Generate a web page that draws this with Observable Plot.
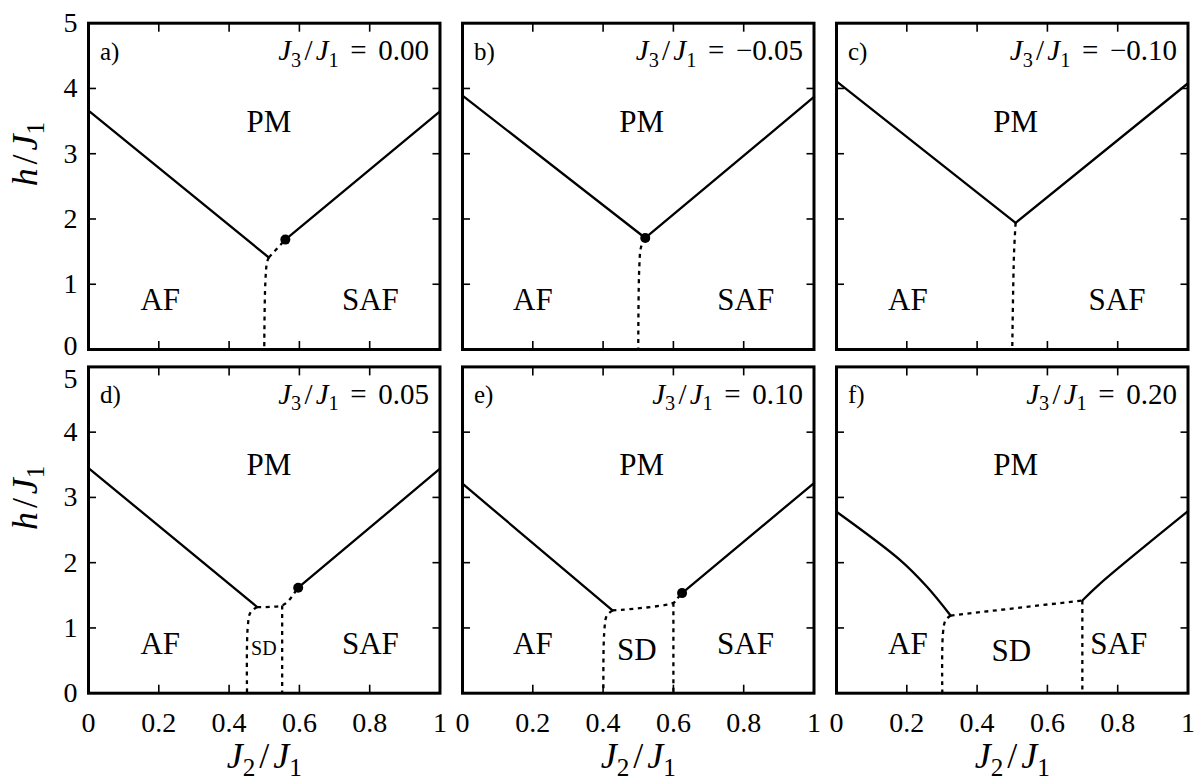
<!DOCTYPE html>
<html>
<head>
<meta charset="utf-8">
<script src="https://cdn.jsdelivr.net/npm/d3@7"></script>
<script src="https://cdn.jsdelivr.net/npm/@observablehq/plot@0.6"></script>
<style>
  html, body { margin: 0; padding: 0; background: #fff; }
  svg text { white-space: pre; }
</style>
</head>
<body>
<div id="chart"></div>
<script>
// ---- panels ----
const panelLetters = ["a", "b", "c", "d", "e", "f"];
const j3Values = [0.00, -0.05, -0.10, 0.05, 0.10, 0.20];

// ---- axes ----
const xTicks = [0, 0.2, 0.4, 0.6, 0.8, 1];
const yTicks = [0, 1, 2, 3, 4, 5];
const innerXTicks = [0.2, 0.4, 0.6, 0.8];
const innerYTicks = [1, 2, 3, 4];
const xAxisLabel = "J₂/J₁";
const yAxisLabel = "h/J₁";

// ---- phase boundaries, [J2/J1, h/J1], one entry per panel ----
// AF–PM (solid)
const afPmLine = [
  [[0, 3.66], [0.513, 1.41]],
  [[0, 3.89], [0.52, 1.709]],
  [[0, 4.11], [0.5096, 1.94]],
  [[0, 3.45], [0.48, 1.32]],
  [[0, 3.21], [0.4267, 1.268]],
  [[0, 2.78], [0.182, 2.035], [0.258, 1.626], [0.3245, 1.19]]
];
// SAF–PM (solid)
const safPmLine = [
  [[0.56, 1.684], [1, 3.65]],
  [[0.52, 1.709], [1, 3.87]],
  [[0.5096, 1.94], [1, 4.08]],
  [[0.5966, 1.616], [1, 3.44]],
  [[0.6246, 1.534], [1, 3.22]],
  [[0.6994, 1.42], [0.75, 1.68], [1, 2.79]]
];
// upper dotted boundary (towards PM)
const pmDotted = [
  [[0.513, 1.41], [0.56, 1.684]],
  null,
  null,
  [[0.48, 1.32], [0.5509, 1.345], [0.5698, 1.422], [0.584, 1.524], [0.5966, 1.616]],
  [[0.4267, 1.268], [0.6007, 1.386], [0.6104, 1.447], [0.6246, 1.534]],
  [[0.3245, 1.19], [0.6994, 1.42]]
];
// left dotted boundary (AF–SAF or AF–SD)
const leftDotted = [
  [[0.513, 1.41], [0.508, 1.34], [0.503, 1.01], [0.5, 0]],
  [[0.52, 1.709], [0.508, 1.57], [0.503, 1.27], [0.5, 0]],
  [[0.5096, 1.94], [0.505, 1.47], [0.5, 0]],
  [[0.48, 1.32], [0.461, 1.24], [0.453, 1.01], [0.451, 0]],
  [[0.4267, 1.268], [0.4107, 1.19], [0.403, 0.91], [0.401, 0]],
  [[0.3245, 1.19], [0.31, 1.115], [0.3027, 0.91], [0.301, 0]]
];
// right dotted boundary (SD–SAF)
const rightDotted = [
  null, null, null,
  [[0.551, 1.345], [0.551, 0]],
  [[0.6, 1.386], [0.6, 0]],
  [[0.6994, 1.42], [0.6994, 0]]
];
// critical end points
const criticalPoints = [[0.56, 1.684], [0.52, 1.709], null, [0.5966, 1.616], [0.6246, 1.534], null];

// ---- region labels ----
const regionNames = ["PM", "AF", "SAF", "SD"];
const regionX = [
  [0.513, 0.204, 0.802, null],
  [0.51, 0.2, 0.806, null],
  [0.51, 0.203, 0.798, null],
  [0.513, 0.204, 0.802, 0.499],
  [0.51, 0.2, 0.805, 0.496],
  [0.51, 0.203, 0.803, 0.497]
];
const regionH = [
  [3.49, 0.755, 0.755, null],
  [3.49, 0.755, 0.755, null],
  [3.49, 0.755, 0.755, null],
  [3.49, 0.755, 0.755, 0.69],
  [3.5, 0.755, 0.755, 0.655],
  [3.5, 0.755, 0.755, 0.64]
];
const smallLabelPanel = "d";

// ---- build tables ----
const facetOf = i => ({fx: i % 3, fy: Math.floor(i / 3)});
const lineRows = [];
const addLine = (pts, i, id, style) => {
  if (!pts) return;
  for (const [x, h] of pts) lineRows.push({...facetOf(i), id: panelLetters[i] + id, style, x, h});
};
panelLetters.forEach((p, i) => {
  addLine(afPmLine[i], i, "afpm", "solid");
  addLine(safPmLine[i], i, "safpm", "solid");
  addLine(pmDotted[i], i, "pmdot", "dotted");
  addLine(leftDotted[i], i, "ldot", "dotted");
  addLine(rightDotted[i], i, "rdot", "dotted");
});
const dotRows = criticalPoints.flatMap((c, i) => c ? [{...facetOf(i), x: c[0], h: c[1]}] : []);
const labelRows = [];
panelLetters.forEach((p, i) => {
  regionNames.forEach((name, k) => {
    if (regionX[i][k] == null) return;
    labelRows.push({...facetOf(i), panel: p, name, x: regionX[i][k], h: regionH[i][k]});
  });
});
const fmt = v => (v < 0 ? "\u2212" : "") + Math.abs(v).toFixed(2);
const panelRows = panelLetters.map((p, i) => ({...facetOf(i), letter: p + ")", j3: "J₃/J₁ = " + fmt(j3Values[i])}));
const bottomPanels = [0, 1, 2].map(fx => ({fx, fy: 1}));
const leftPanels = [0, 1].map(fy => ({fx: 0, fy}));
const yLabelRows = leftPanels.flatMap(p => yTicks.map(v => ({...p, v})));
const isTop5 = d => d.fy === 1 && d.v === 5;
const isBottom0 = d => d.fy === 0 && d.v === 0;

const FONT = "'Liberation Serif', 'Times New Roman', serif";
const chart = Plot.plot({
  width: 1199,
  height: 781,
  marginLeft: 88,
  marginRight: 11.5,
  marginTop: 22.7,
  marginBottom: 88.3,
  style: {fontFamily: FONT, fontSize: "28px", background: "#fff", color: "#000"},
  fx: {domain: [0, 1, 2], paddingInner: 0.0602, paddingOuter: 0, axis: null, round: false},
  fy: {domain: [0, 1], paddingInner: 0.0506, paddingOuter: 0, axis: null, round: false},
  x: {domain: [0, 1]},
  y: {domain: [0, 5]},
  marks: [
    // inward ticks on all four sides of every panel
    Plot.axisX(innerXTicks, {anchor: "bottom", tickSize: 8, dy: -8, fill: "none", strokeWidth: 1.6, facetAnchor: null, label: null}),
    Plot.axisX(innerXTicks, {anchor: "top", tickSize: 8, dy: 8, fill: "none", strokeWidth: 1.6, facetAnchor: null, label: null}),
    Plot.axisY(innerYTicks, {anchor: "left", tickSize: 8, dx: 8, fill: "none", strokeWidth: 1.6, facetAnchor: null, label: null}),
    Plot.axisY(innerYTicks, {anchor: "right", tickSize: 8, dx: -8, fill: "none", strokeWidth: 1.6, facetAnchor: null, label: null}),
    // tick labels
    Plot.axisX(xTicks, {anchor: "bottom", tickSize: 0, tickPadding: 18.5, stroke: "none", tickFormat: d => String(d), fontSize: 28, label: null}),
    Plot.text(yLabelRows.filter(d => !isTop5(d) && !isBottom0(d)), {fx: "fx", fy: "fy", y: "v", text: d => String(d.v), frameAnchor: "left", textAnchor: "end", dx: -11, fontSize: 28}),
    Plot.text(yLabelRows.filter(isBottom0), {fx: "fx", fy: "fy", y: "v", text: d => String(d.v), frameAnchor: "left", textAnchor: "end", dx: -11, dy: -3, fontSize: 28}),
    Plot.text(yLabelRows.filter(isTop5), {fx: "fx", fy: "fy", y: "v", text: d => String(d.v), frameAnchor: "left", textAnchor: "end", dx: -11, dy: 12, fontSize: 28}),
    // axis titles
    Plot.text(bottomPanels, {fx: "fx", fy: "fy", text: () => xAxisLabel, frameAnchor: "bottom", lineAnchor: "bottom", dy: 75, fontSize: 36}),
    Plot.text(leftPanels, {fx: "fx", fy: "fy", text: () => yAxisLabel, frameAnchor: "left", lineAnchor: "bottom", rotate: -90, dx: -52, fontSize: 36}),
    // phase boundaries
    Plot.line(lineRows.filter(d => d.style === "solid"), {x: "x", y: "h", z: "id", fx: "fx", fy: "fy", stroke: "#000", strokeWidth: 2.3, curve: "catmull-rom"}),
    Plot.line(lineRows.filter(d => d.style === "dotted"), {x: "x", y: "h", z: "id", fx: "fx", fy: "fy", stroke: "#000", strokeWidth: 2.3, strokeDasharray: "4,4.5", strokeLinecap: "butt", curve: "catmull-rom"}),
    Plot.dot(dotRows, {x: "x", y: "h", fx: "fx", fy: "fy", r: 5, fill: "#000", stroke: "none"}),
    // region labels
    Plot.text(labelRows.filter(d => !(d.name === "SD" && d.panel === smallLabelPanel)), {x: "x", y: "h", fx: "fx", fy: "fy", text: "name", fontSize: 31}),
    Plot.text(labelRows.filter(d => d.name === "SD" && d.panel === smallLabelPanel), {x: "x", y: "h", fx: "fx", fy: "fy", text: "name", fontSize: 20}),
    // panel annotations
    Plot.text(panelRows, {fx: "fx", fy: "fy", text: "letter", frameAnchor: "top-left", textAnchor: "start", lineAnchor: "bottom", dx: 11.5, dy: 36.5, fontSize: 25}),
    Plot.text(panelRows, {fx: "fx", fy: "fy", text: "j3", frameAnchor: "top-right", textAnchor: "end", lineAnchor: "bottom", dx: -11, dy: 37, fontSize: 29}),
    Plot.frame({stroke: "#000", strokeWidth: 3})
  ]
});
document.getElementById("chart").appendChild(chart);

// math typesetting: italic letters, lowered subscript digits, spaced slash
function mathify(svg) {
  svg.querySelectorAll("text").forEach(el => {
    const s = el.textContent;
    if (!/[Jh]/.test(s)) return;
    const fs = parseFloat(getComputedStyle(el).fontSize) || 28;
    const shift = 0.22 * fs;
    const gap = 0.11 * fs;
    const toks = [];
    for (const ch of s) {
      const c = ch.codePointAt(0);
      let kind, t = ch;
      if (c >= 0x2080 && c <= 0x2089) { kind = "sub"; t = String.fromCharCode(48 + c - 0x2080); }
      else if (/[A-Za-z]/.test(ch)) kind = "it";
      else if (ch === "/") kind = "slash";
      else kind = "rm";
      const last = toks[toks.length - 1];
      if (last && last.kind === kind && kind !== "slash") last.t += t; else toks.push({kind, t});
    }
    el.textContent = "";
    el.style.wordSpacing = "0.15em";
    let low = false, afterSlash = false;
    for (const tok of toks) {
      const ts = document.createElementNS("http://www.w3.org/2000/svg", "tspan");
      ts.textContent = tok.t;
      let dy = 0, dx = 0;
      if (tok.kind === "it") ts.setAttribute("font-style", "italic");
      if (tok.kind === "sub") {
        ts.setAttribute("font-size", (0.7 * fs).toFixed(2));
        if (!low) { dy = shift; low = true; }
      } else if (low) {
        dy = -shift; low = false;
      }
      if (tok.kind === "slash") dx += gap;
      if (afterSlash) dx += gap;
      afterSlash = tok.kind === "slash";
      if (dy) ts.setAttribute("dy", dy.toFixed(2));
      if (dx) ts.setAttribute("dx", dx.toFixed(2));
      el.appendChild(ts);
    }
  });
}
mathify(chart);
</script>
</body>
</html>
